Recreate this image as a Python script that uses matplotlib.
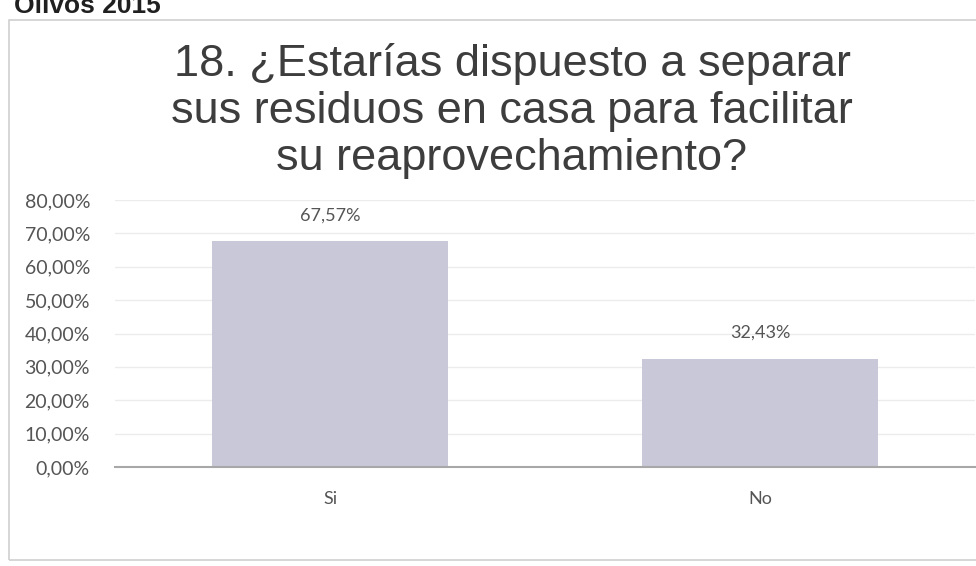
import matplotlib
matplotlib.use("Agg")
import matplotlib.pyplot as plt
from matplotlib.patches import Rectangle

categories = ["Si", "No"]
values = [67.57, 32.43]
value_labels = ["67,57%", "32,43%"]
yticks = [0, 10, 20, 30, 40, 50, 60, 70, 80]
ytick_labels = ["0,00%", "10,00%", "20,00%", "30,00%", "40,00%", "50,00%", "60,00%", "70,00%", "80,00%"]
title = "18. ¿Estarías dispuesto a separar\nsus residuos en casa para facilitar\nsu reaprovechamiento?"
header = "Olivos 2015"

W, H = 976, 566
fig = plt.figure(figsize=(W/100, H/100), dpi=100)
fig.patch.set_facecolor("white")

# chart border
fig.patches.append(Rectangle((9/W, 1 - 560/H), 1.0, (560-20)/H, transform=fig.transFigure,
                             fill=False, edgecolor="#d0d0d0", linewidth=1.2))

fig.text(14/W, 1 - 13/H, header, fontsize=19, fontweight="bold", family="Liberation Sans",
         color="#202020", va="baseline", ha="left")

fig.text(512/W, 1 - 111/H, title, fontsize=32.5, family="Liberation Sans", color="#3d3d3d",
         ha="center", va="center", linespacing=1.2)

ax = fig.add_axes([115/W, 1 - 467/H, (975-115)/W, (467-200)/H])
ax.set_facecolor("none")
x = list(range(len(categories)))
ax.bar(x, values, width=0.55, color="#c8c8d8", edgecolor="none", zorder=2)
ax.set_xlim(-0.5, 1.5)
ax.set_ylim(0, 80)
ax.set_yticks(yticks)
ax.set_yticklabels(ytick_labels, family="Lato", fontsize=14, color="#555555")
ax.set_xticks(x)
ax.set_xticklabels(categories, family="Lato", fontsize=13, color="#555555")
ax.tick_params(axis="both", length=0)
ax.tick_params(axis="y", pad=18)
ax.tick_params(axis="x", pad=17)
ax.grid(axis="y", color="#ececec", linewidth=1, zorder=0)
for s in ["top", "right", "left"]:
    ax.spines[s].set_visible(False)
ax.spines["bottom"].set_color("#a8a8a8")
ax.spines["bottom"].set_linewidth(1.5)
for xi, v, lab in zip(x, values, value_labels):
    ax.annotate(lab, (xi, v), xytext=(0, 13), textcoords="offset points", ha="center", va="bottom",
                family="Lato", fontsize=13, color="#555555")

fig.savefig("out.png", dpi=100)
